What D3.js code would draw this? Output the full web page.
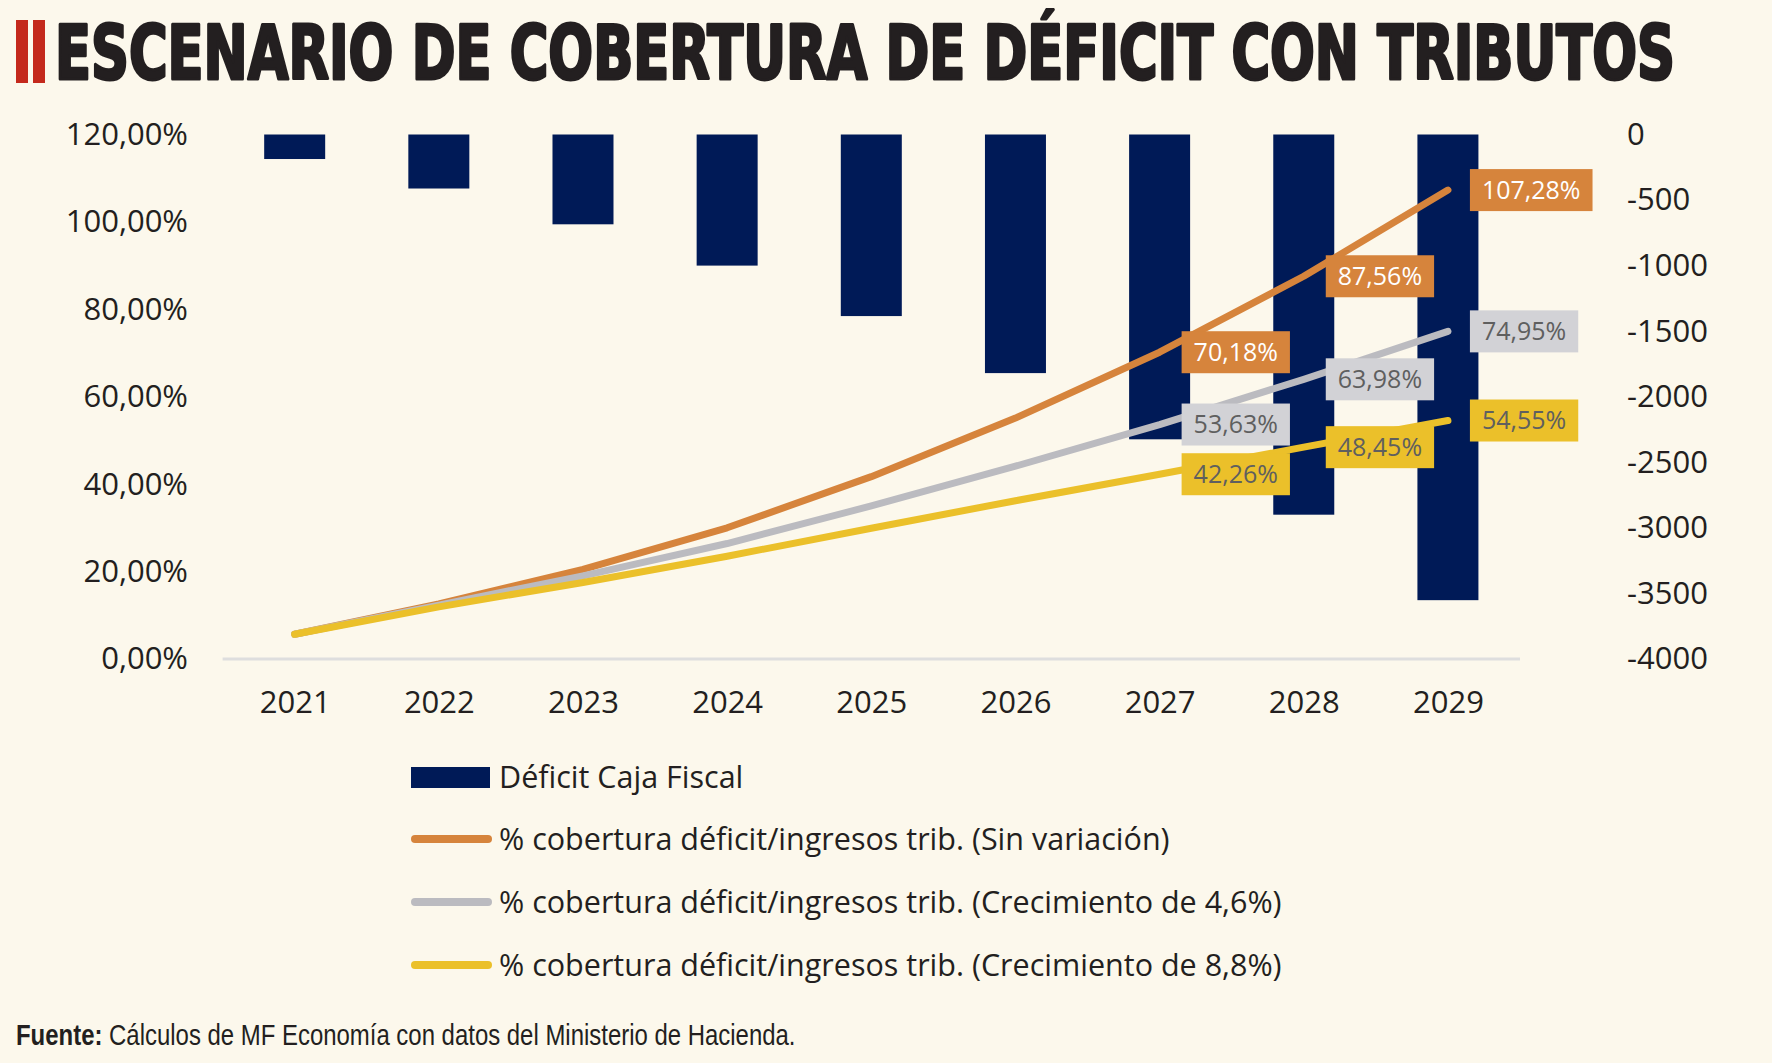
<!DOCTYPE html>
<html>
<head>
<meta charset="utf-8">
<script src="https://cdn.jsdelivr.net/npm/d3@7"></script>
<style>
  html, body { margin: 0; padding: 0; background: #fcf8ec; }
  svg { display: block; }
</style>
</head>
<body>
<div id="chart"></div>
<script>
// data
const years = ["2021", "2022", "2023", "2024", "2025", "2026", "2027", "2028", "2029"];
const deficit = [-187, -412, -685, -1000, -1385, -1820, -2325, -2900, -3552];
const sinVariacion = [5.63, 12.6, 20.5, 30.0, 41.7, 55.1, 70.18, 87.56, 107.28];
const crec46 = [5.63, 12.3, 19.0, 26.4, 35.0, 44.1, 53.63, 63.98, 74.95];
const crec88 = [5.63, 11.9, 17.5, 23.5, 29.9, 36.2, 42.26, 48.45, 54.55];
const labelYears = ["2027", "2028", "2029"];
const leftTicks = [0, 20, 40, 60, 80, 100, 120];
const rightTicks = [0, -500, -1000, -1500, -2000, -2500, -3000, -3500, -4000];

const W = 1772, H = 1063;
const plot = { left: 222.6, right: 1520, top: 134.5, bottom: 658.9 };
const font = "'Open Sans', sans-serif";

const series = [
  { name: "% cobertura déficit/ingresos trib. (Sin variación)", values: sinVariacion,
    color: "#d6843c", box: "#d6843c", text: "#ffffff" },
  { name: "% cobertura déficit/ingresos trib. (Crecimiento de 4,6%)", values: crec46,
    color: "#bbbbc0", box: "#d2d2d6", text: "#5f5f5f" },
  { name: "% cobertura déficit/ingresos trib. (Crecimiento de 8,8%)", values: crec88,
    color: "#ebc02a", box: "#ebc02a", text: "#5f5f5f" }
];

const es = d3.formatLocale({ decimal: ",", thousands: ".", grouping: [3], currency: ["", "€"], minus: "-" });
const pct = d => es.format(".2f")(d) + "%";

let svg = d3.select("#chart").append("svg")
  .attr("width", W)
  .attr("height", H);

svg.append("rect").attr("width", W).attr("height", H).attr("fill", "#fcf8ec");

// title: squeeze a bold condensed face to the reference width
svg.append("rect").attr("x", 16).attr("y", 20).attr("width", 12).attr("height", 63).attr("fill", "#c4291c");
svg.append("rect").attr("x", 33).attr("y", 20).attr("width", 12).attr("height", 63).attr("fill", "#c4291c");
let title = svg.append("text")
  .attr("x", 0)
  .attr("y", 0)
  .style("font-family", "'DejaVu Sans Condensed', 'DejaVu Sans', sans-serif")
  .style("font-weight", "bold")
  .style("font-size", "74px")
  .style("fill", "#231f20")
  .style("stroke", "#231f20")
  .style("stroke-width", 3)
  .style("stroke-linejoin", "round")
  .text("ESCENARIO DE COBERTURA DE DÉFICIT CON TRIBUTOS");
let titleW = title.node().getComputedTextLength();
title.attr("transform", "translate(55,79) scale(" + (1620 / titleW) + ",1)");

let scaleX = d3.scalePoint()
  .domain(years)
  .range([plot.left, plot.right])
  .padding(0.5);

let yLeft = d3.scaleLinear().domain([0, 120]).range([plot.bottom, plot.top]);
let yRight = d3.scaleLinear().domain([-4000, 0]).range([plot.bottom, plot.top]);

const barWidth = 61;

// bars
svg.append("g")
  .selectAll("rect")
  .data(years)
  .enter()
  .append("rect")
  .attr("x", d => scaleX(d) - barWidth / 2)
  .attr("y", yRight(0))
  .attr("width", barWidth)
  .attr("height", (d, i) => yRight(deficit[i]) - yRight(0))
  .attr("fill", "#001a57");

// baseline
svg.append("line")
  .attr("x1", plot.left).attr("x2", plot.right)
  .attr("y1", plot.bottom).attr("y2", plot.bottom)
  .attr("stroke", "#dedede")
  .attr("stroke-width", 3);

// axes
let axisLeft = d3.axisLeft(yLeft).tickValues(leftTicks).tickFormat(pct).tickSize(0).tickPadding(0);
svg.append("g")
  .attr("class", "axisLeft")
  .attr("transform", "translate(188,0)")
  .call(axisLeft);

let axisRight = d3.axisRight(yRight).tickValues(rightTicks).tickFormat(d => String(d)).tickSize(0).tickPadding(0);
svg.append("g")
  .attr("class", "axisRight")
  .attr("transform", "translate(1627,0)")
  .call(axisRight);

let axisBottom = d3.axisBottom(scaleX).tickSize(0).tickPadding(0);
svg.append("g")
  .attr("class", "axisBottom")
  .attr("transform", "translate(0,691)")
  .call(axisBottom);

svg.selectAll(".axisLeft .domain, .axisRight .domain, .axisBottom .domain").remove();
svg.selectAll(".axisLeft text, .axisRight text, .axisBottom text")
  .style("font-family", font)
  .style("font-size", "31px")
  .style("fill", "#231f20");

// lines
let line = d3.line()
  .x((d, i) => scaleX(years[i]))
  .y(d => yLeft(d));

svg.append("g")
  .selectAll("path")
  .data(series)
  .enter()
  .append("path")
  .attr("d", d => line(d.values))
  .attr("fill", "none")
  .attr("stroke", d => d.color)
  .attr("stroke-width", 7)
  .attr("stroke-linecap", "round")
  .attr("stroke-linejoin", "round");

// data labels
let labels = svg.append("g");
series.forEach(s => {
  labelYears.forEach(yr => {
    let i = years.indexOf(yr);
    let cx = scaleX(yr) + 22;
    let cy = yLeft(s.values[i]);
    let g = labels.append("g");
    let box = g.append("rect").attr("fill", s.box);
    let t = g.append("text")
      .attr("x", cx + 12)
      .attr("y", cy)
      .attr("dy", "0.35em")
      .style("font-family", font)
      .style("font-size", "25px")
      .style("fill", s.text)
      .text(pct(s.values[i]));
    let w = t.node().getComputedTextLength();
    box.attr("x", cx).attr("y", cy - 21).attr("width", w + 24).attr("height", 42);
  });
});

// legend
let legend = svg.append("g").attr("transform", "translate(411,0)");
legend.append("rect")
  .attr("x", 0).attr("y", 767)
  .attr("width", 79).attr("height", 21)
  .attr("fill", "#001a57");
legend.append("text")
  .attr("x", 88).attr("y", 777)
  .attr("dy", "0.35em")
  .style("font-family", font)
  .style("font-size", "30.5px")
  .style("fill", "#231f20")
  .text("Déficit Caja Fiscal");

series.forEach((s, i) => {
  let y = 839 + i * 63;
  legend.append("line")
    .attr("x1", 4).attr("x2", 77)
    .attr("y1", y).attr("y2", y)
    .attr("stroke", s.color)
    .attr("stroke-width", 8)
    .attr("stroke-linecap", "round");
  legend.append("text")
    .attr("x", 88).attr("y", y)
    .attr("dy", "0.35em")
    .style("font-family", font)
    .style("font-size", "30.5px")
    .style("fill", "#231f20")
    .text(s.name);
});

// source, condensed to the reference width
let src = svg.append("text")
  .attr("x", 0)
  .attr("y", 0)
  .attr("dy", "0.35em")
  .style("font-family", "'Liberation Sans', sans-serif")
  .style("font-size", "30px")
  .style("fill", "#231f20");
src.append("tspan").style("font-weight", "bold").text("Fuente:");
src.append("tspan").text(" Cálculos de MF Economía con datos del Ministerio de Hacienda.");
let srcW = src.node().getComputedTextLength();
src.attr("transform", "translate(16,1034) scale(" + (780 / srcW) + ",1)");
</script>
</body>
</html>
